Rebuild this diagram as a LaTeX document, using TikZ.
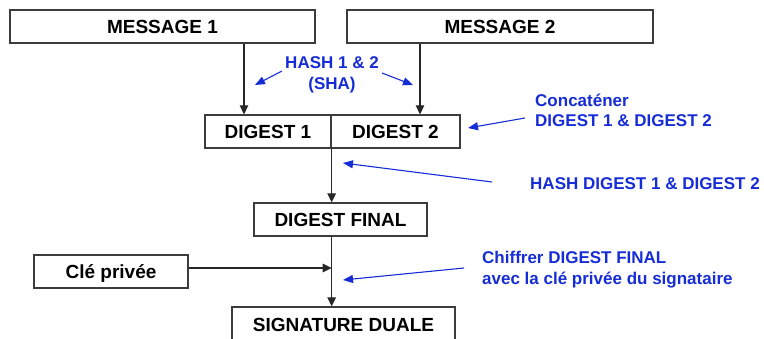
\documentclass[tikz,border=0pt]{standalone}
\usepackage{fontspec}
\setmainfont{Liberation Sans}
\usetikzlibrary{arrows.meta}
\definecolor{lbl}{RGB}{22,44,214}
\definecolor{boxline}{RGB}{60,60,60}
\tikzset{
  box/.style={draw=boxline, line width=1.3pt, inner sep=0pt, minimum height=33pt,
    font=\fontsize{19}{21}\selectfont\bfseries, text height=13.6pt, text depth=0pt},
  arr/.style={draw=black!85, line width=1.3pt, -{Triangle[width=8.5pt,length=9pt]}},
  barr/.style={draw=lbl, line width=1.1pt, -{Triangle[width=8pt,length=10pt]}},
  blbl/.style={text=lbl, inner sep=0pt, font=\fontsize{17}{20.5}\selectfont\bfseries}
}
\begin{document}
\begin{tikzpicture}[x=1pt,y=-1pt]
\useasboundingbox (0,0) rectangle (764,339);
\clip (0,0) rectangle (764,339);
% boxes
\node[box, minimum width=305pt] (m1) at (162.5,26.5) {MESSAGE 1};
\node[box, minimum width=306pt] (m2) at (500,26.5) {MESSAGE 2};
\node[box, minimum width=126pt] (d1) at (268,131.5) {DIGEST 1};
\node[box, minimum width=129pt] (d2) at (395.5,131.5) {DIGEST 2};
\node[box, minimum width=173pt] (df) at (340.5,219.5) {DIGEST FINAL};
\node[box, minimum width=154pt] (cle) at (111,271.5) {Clé privée};
\node[box, minimum width=223pt, minimum height=36pt] (sig) at (343.5,325) {SIGNATURE DUALE};
% columns
\coordinate (c1) at (244,0);
\coordinate (c2) at (420,0);
% black connectors
\draw[arr] (c1 |- m1.south) -- (c1 |- d1.north);
\draw[arr] (c2 |- m2.south) -- (c2 |- d2.north);
\draw[arr] (d1.south east) -- (d1.south east |- df.north);
\draw[arr] (df.south -| d1.south east) -- (sig.north -| d1.south east);
\draw[arr] ([yshift=3.5pt]cle.east) -- ([yshift=3.5pt]cle.east -| d1.south east);
% blue labels
\node[blbl, align=center, anchor=north] (hl) at (332,56.5) {HASH 1 \& 2\\(SHA)};
\node[blbl, align=left, anchor=north west] (cc) at (535,93.5) {Concaténer\\DIGEST 1 \& DIGEST 2};
\node[blbl, anchor=base west] (hd) at (530,190) {HASH DIGEST 1 \& DIGEST 2};
\node[blbl, align=left, anchor=north west] (ch) at (482,251) {Chiffrer DIGEST FINAL\\avec la clé privée du signataire};
% blue arrows
\coordinate (h1s) at (282,71); \coordinate (h1e) at (255,85);
\coordinate (h2s) at (382,73); \coordinate (h2e) at (413,85);
\coordinate (ccs) at (525,118); \coordinate (cce) at (468,128);
\coordinate (hds) at (492,182); \coordinate (hde) at (343,163);
\coordinate (chs) at (464,268); \coordinate (che) at (343,280);
\draw[barr] (h1s) -- (h1e);
\draw[barr] (h2s) -- (h2e);
\draw[barr] (ccs) -- (cce);
\draw[barr] (hds) -- (hde);
\draw[barr] (chs) -- (che);
\end{tikzpicture}
\end{document}
